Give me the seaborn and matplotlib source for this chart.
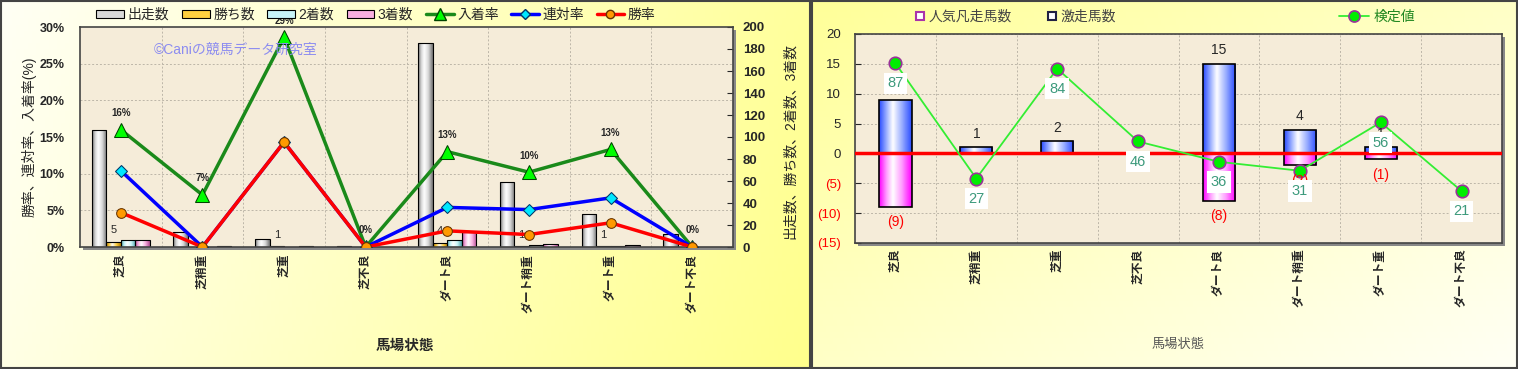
import numpy as np
import pandas as pd
import matplotlib
matplotlib.use("Agg")
import matplotlib.pyplot as plt
import seaborn as sns
from matplotlib.colors import LinearSegmentedColormap
from matplotlib.patches import Patch, Rectangle
from matplotlib.lines import Line2D

# ---- data ----
conditions = ["芝良", "芝稍重", "芝重", "芝不良", "ダート良", "ダート稍重", "ダート重", "ダート不良"]

# left chart: counts (right axis)
starts = [106, 14, 7, 1, 185, 59, 30, 12]
wins = [5, 0, 1, 0, 4, 1, 1, 0]
seconds = [6, 0, 0, 0, 6, 2, 1, 0]
thirds = [6, 1, 1, 0, 14, 3, 2, 0]
# left chart: rates in % (left axis)
place_rate = [16.0, 7.1, 28.6, 0.0, 13.0, 10.2, 13.3, 0.0]
quinella_rate = [10.4, 0.0, 14.3, 0.0, 5.4, 5.1, 6.7, 0.0]
win_rate = [4.7, 0.0, 14.3, 0.0, 2.2, 1.7, 3.3, 0.0]

# right chart
gekisou = [9, 1, 2, 0, 15, 4, 1, 0]          # 激走馬数
bonsou = [9, 0, 0, 0, 8, 2, 1, 0]            # 人気凡走馬数 (drawn below zero)
kentei_pos = [15.1, -4.2, 14.2, 2.0, -1.4, -2.9, 5.2, -6.3]
kentei_label = [87, 27, 84, 46, 36, 31, 56, 21]

count_series = ["出走数", "勝ち数", "2着数", "3着数"]
bar_light = ["#d8d8d8", "#ffd040", "#c8f4f8", "#f8b0e0"]
bar_dark = ["#707070", "#b07800", "#4aa0a8", "#b04890"]

sns.set_style("white")
plt.rcParams["font.family"] = ["Liberation Sans", "Noto Sans CJK JP", "DejaVu Sans"]

W, H = 1518, 369
fig = plt.figure(figsize=(W / 100, H / 100), dpi=100)


def fbox(x0, y0, x1, y1):
    # pixel box (top-left origin) -> figure fraction rect
    return [x0 / W, 1 - y1 / H, (x1 - x0) / W, (y1 - y0) / H]


def cylinder(ax, patches, dark, light):
    cmap = LinearSegmentedColormap.from_list(
        "cyl", [(0, dark), (0.22, light), (0.42, "white"), (0.7, light), (1, dark)])
    grad = np.linspace(0, 1, 64).reshape(1, -1)
    for p in patches:
        x, y, w, h = p.get_x(), p.get_y(), p.get_width(), p.get_height()
        if h != 0:
            im = ax.imshow(grad, cmap=cmap, extent=[x, x + w, y, y + h], aspect="auto",
                           interpolation="bicubic", zorder=p.get_zorder() - 0.01)
            im.set_clip_path(p)
        p.set_facecolor("none")


# ---- backgrounds ----
bg = fig.add_axes([0, 0, 1, 1], zorder=-10)
bg.set_xlim(0, W)
bg.set_ylim(H, 0)
bg.axis("off")

gx, gy = np.meshgrid(np.linspace(0, 1, 200), np.linspace(0, 1, 60))
t = np.clip(0.85 * gx + 0.15 * gy, 0, 1)[..., None]
img_left = (1 - t) * np.array([1, 1, 0.96]) + t * np.array([1, 1, 0.55])
bg.imshow(img_left, extent=[0, 810, H, 0], aspect="auto")
t = np.clip(0.5 * (1 - gx) + 0.5 * (1 - gy), 0, 1)[..., None]
img_right = (1 - t) * np.array([1, 1, 0.96]) + t * np.array([1, 1, 0.6])
bg.imshow(img_right, extent=[812, 1518, H, 0], aspect="auto")
bg.add_patch(Rectangle((1, 1), 809, 367, fill=False, ec="#444444", lw=1.5))
bg.add_patch(Rectangle((812, 1), 705, 367, fill=False, ec="#444444", lw=1.5))
# plot area shadows
bg.add_patch(Rectangle((83, 30), 653, 220, fc="#888888", ec="none"))
bg.add_patch(Rectangle((858, 37), 647, 209, fc="#888888", ec="none"))

grid_kw = dict(color="#bdb6a8", lw=0.7, ls=(0, (2, 2)))

# -------------------- LEFT CHART --------------------
ax_bar = fig.add_axes(fbox(80, 27, 733, 247))
ax_bar.set_facecolor("#f5ecd9")
ax_pct = ax_bar.twinx()

df = pd.DataFrame({
    "cond": conditions * 4,
    "count": starts + wins + seconds + thirds,
    "series": np.repeat(count_series, len(conditions)),
})
sns.barplot(data=df, x="cond", y="count", hue="series", hue_order=count_series,
            palette=bar_light, width=0.71, gap=0, errorbar=None, edgecolor="black",
            linewidth=0.8, legend=False, ax=ax_bar)
n = len(conditions)
for k in range(4):
    cylinder(ax_bar, ax_bar.patches[k * n:(k + 1) * n], bar_dark[k], bar_light[k])

ax_bar.set_xlim(-0.5, n - 0.5)
ax_bar.set_ylim(0, 200)
ax_bar.set_yticks(np.arange(0, 201, 20))
ax_bar.set_yticklabels([str(v) for v in range(0, 201, 20)], fontsize=9.5, fontweight="bold")
ax_bar.set_yticks(np.linspace(0, 200, 7), minor=True)
ax_bar.set_xticks(np.arange(0.5, n - 1, 1), minor=True)
ax_bar.yaxis.tick_right()
ax_bar.tick_params(axis="y", which="major", direction="in", length=4, pad=7,
                   left=False, right=True, labelleft=False, labelright=True)
ax_bar.tick_params(axis="y", which="minor", length=0)
ax_bar.tick_params(axis="x", which="both", length=0)
ax_bar.set_xticks(range(n))
ax_bar.set_xticklabels(conditions, rotation=90, va="top", ha="center",
                       fontsize=8.5, fontweight="bold")
ax_bar.tick_params(axis="x", pad=5)
ax_bar.grid(which="minor", **grid_kw)
ax_bar.set_axisbelow(True)
ax_bar.set_xlabel("")
ax_bar.set_ylabel("出走数、勝ち数、2着数、3着数", fontsize=10)
ax_bar.yaxis.set_label_position("right")
ax_bar.yaxis.set_label_coords(1.077, 0.48)
for s in ax_bar.spines.values():
    s.set_color("#444444")
    s.set_linewidth(1.2)

# win count labels above the 勝ち数 bars
for i, v in enumerate(wins):
    if v > 0:
        ax_bar.annotate(str(v), (i - 0.089, v), xytext=(0, 8), textcoords="offset points",
                        ha="center", va="center", fontsize=8)

xpos = np.arange(n)
sns.lineplot(x=xpos, y=place_rate, ax=ax_pct, color="#1a8a1a", lw=2.5, marker="^",
             markersize=10, markerfacecolor="#00ff00", markeredgecolor="#004400")
sns.lineplot(x=xpos, y=quinella_rate, ax=ax_pct, color="#0000ff", lw=2.5, marker="D",
             markersize=6, markerfacecolor="#00e8ff", markeredgecolor="#003366")
sns.lineplot(x=xpos, y=win_rate, ax=ax_pct, color="#ff0000", lw=2.5, marker="o",
             markersize=7, markerfacecolor="#ff9900", markeredgecolor="#663300")
ax_pct.set_ylim(0, 30)
ax_pct.set_xlim(-0.5, n - 0.5)
ax_pct.set_yticks(np.arange(0, 31, 5))
ax_pct.set_yticklabels([f"{v}%" for v in range(0, 31, 5)], fontsize=9, fontweight="bold")
ax_pct.yaxis.tick_left()
ax_pct.tick_params(axis="y", length=0, pad=11, left=True, right=False,
                   labelleft=True, labelright=False)
ax_pct.yaxis.set_label_position("left")
ax_pct.set_ylabel("勝率、連対率、入着率(%)", fontsize=10)
ax_pct.yaxis.set_label_coords(-0.066, 0.5)
for s in ax_pct.spines.values():
    s.set_visible(False)
for i, v in enumerate(place_rate):
    ax_pct.annotate(f"{v:.0f}%", (i, v), xytext=(0, 12), textcoords="offset points",
                    ha="center", va="center", fontsize=7, fontweight="bold")
ax_pct.text(0.239, 0.895, "©Caniの競馬データ研究室", transform=ax_pct.transAxes,
            ha="center", va="center", color="#8c8cf0", fontsize=10)

fig.text(405 / W, 1 - 346 / H, "馬場状態", ha="center", va="center", fontsize=10.5,
         fontweight="bold")

left_handles = [Patch(facecolor=c, edgecolor="black", lw=0.8) for c in bar_light] + [
    Line2D([], [], color="#1a8a1a", lw=2.5, marker="^", ms=8, mfc="#00ff00", mec="#004400"),
    Line2D([], [], color="#0000ff", lw=2.5, marker="D", ms=5, mfc="#00e8ff", mec="#003366"),
    Line2D([], [], color="#ff0000", lw=2.5, marker="o", ms=6, mfc="#ff9900", mec="#663300"),
]
fig.legend(left_handles, count_series + ["入着率", "連対率", "勝率"], loc="center",
           bbox_to_anchor=(376 / W, 1 - 15 / H), ncol=7, frameon=False, fontsize=10,
           handlelength=2.0, handleheight=0.55, handletextpad=0.25, columnspacing=0.9)

# -------------------- RIGHT CHART --------------------
ax_r = fig.add_axes(fbox(855, 34, 1502, 243))
ax_r.set_facecolor("#f5ecd9")
sns.barplot(x=conditions, y=gekisou, color="#8fa4ff", width=0.4, errorbar=None,
            edgecolor="black", linewidth=1.2, ax=ax_r)
sns.barplot(x=conditions, y=[-v for v in bonsou], color="#ff8cff", width=0.4,
            errorbar=None, edgecolor="black", linewidth=1.2, ax=ax_r)
cylinder(ax_r, ax_r.patches[:n], "#2a4cff", "#9aaeff")
cylinder(ax_r, ax_r.patches[n:2 * n], "#ff00ff", "#ff9cff")

ax_r.axhline(0, color="#ff0000", lw=2.5, zorder=3)
sns.lineplot(x=xpos, y=kentei_pos, ax=ax_r, color="#33ee33", lw=1.3, marker="o",
             markersize=9, markerfacecolor="#00ee00", markeredgecolor="#993399",
             markeredgewidth=1.2, zorder=4)

for i, v in enumerate(gekisou):
    if v > 0:
        ax_r.annotate(str(v), (i, v), xytext=(0, 10), textcoords="offset points",
                      ha="center", va="center", fontsize=10, zorder=5)
for i, v in enumerate(bonsou):
    if v > 0:
        ax_r.annotate(f"({v})", (i, -v), xytext=(0, -11), textcoords="offset points",
                      ha="center", va="center", fontsize=10, color="#ff0000", zorder=5)
for i, (p, lbl) in enumerate(zip(kentei_pos, kentei_label)):
    ax_r.annotate(str(lbl), (i, p), xytext=(0, -14.5), textcoords="offset points",
                  ha="center", va="center", fontsize=10.5, color="#3c9a7c", zorder=6,
                  bbox=dict(boxstyle="square,pad=0.25", fc="white", ec="none"))

ax_r.set_xlim(-0.5, n - 0.5)
ax_r.set_ylim(-15, 20)
rticks = np.arange(-15, 21, 5)
ax_r.set_yticks(rticks)
ax_r.set_yticklabels([str(v) if v >= 0 else f"({-v})" for v in rticks], fontsize=9.5)
for lab, v in zip(ax_r.get_yticklabels(), rticks):
    if v < 0:
        lab.set_color("#ff0000")
ax_r.tick_params(axis="y", direction="in", length=4, pad=10, left=True)
ax_r.set_xticks(np.arange(0.5, n - 1, 1), minor=True)
ax_r.tick_params(axis="x", which="both", length=0, pad=4)
ax_r.set_xticks(range(n))
ax_r.set_xticklabels(conditions, rotation=90, va="top", ha="center", fontsize=8.5,
                     fontweight="bold")
ax_r.grid(which="minor", axis="x", **grid_kw)
ax_r.grid(which="major", axis="y", **grid_kw)
ax_r.set_axisbelow(True)
for s in ax_r.spines.values():
    s.set_color("#444444")
    s.set_linewidth(1.2)

fig.text(1178 / W, 1 - 345 / H, "馬場状態", ha="center", va="center", fontsize=9.5,
         color="#555555")

right_handles = [
    Line2D([], [], ls="none", marker="s", ms=6, mfc="white", mec="#aa33aa", mew=1.5),
    Line2D([], [], ls="none", marker="s", ms=6, mfc="white", mec="#222244", mew=1.5),
]
fig.legend(right_handles, ["人気凡走馬数", "激走馬数"], loc="center",
           bbox_to_anchor=(1015 / W, 1 - 17 / H), ncol=2, frameon=False, fontsize=10,
           labelcolor="#444444", handlelength=0.8, handletextpad=0.2, columnspacing=2.5)
kentei_handle = Line2D([], [], color="#33ee33", lw=1.3, marker="o", ms=8, mfc="#00ee00",
                       mec="#993399", mew=1.2)
fig.legend([kentei_handle], ["検定値"], loc="center", bbox_to_anchor=(1377 / W, 1 - 17 / H),
           frameon=False, fontsize=10, labelcolor="#228822", handlelength=2.2,
           handletextpad=0.3)

fig.savefig("out.png", dpi=100)
